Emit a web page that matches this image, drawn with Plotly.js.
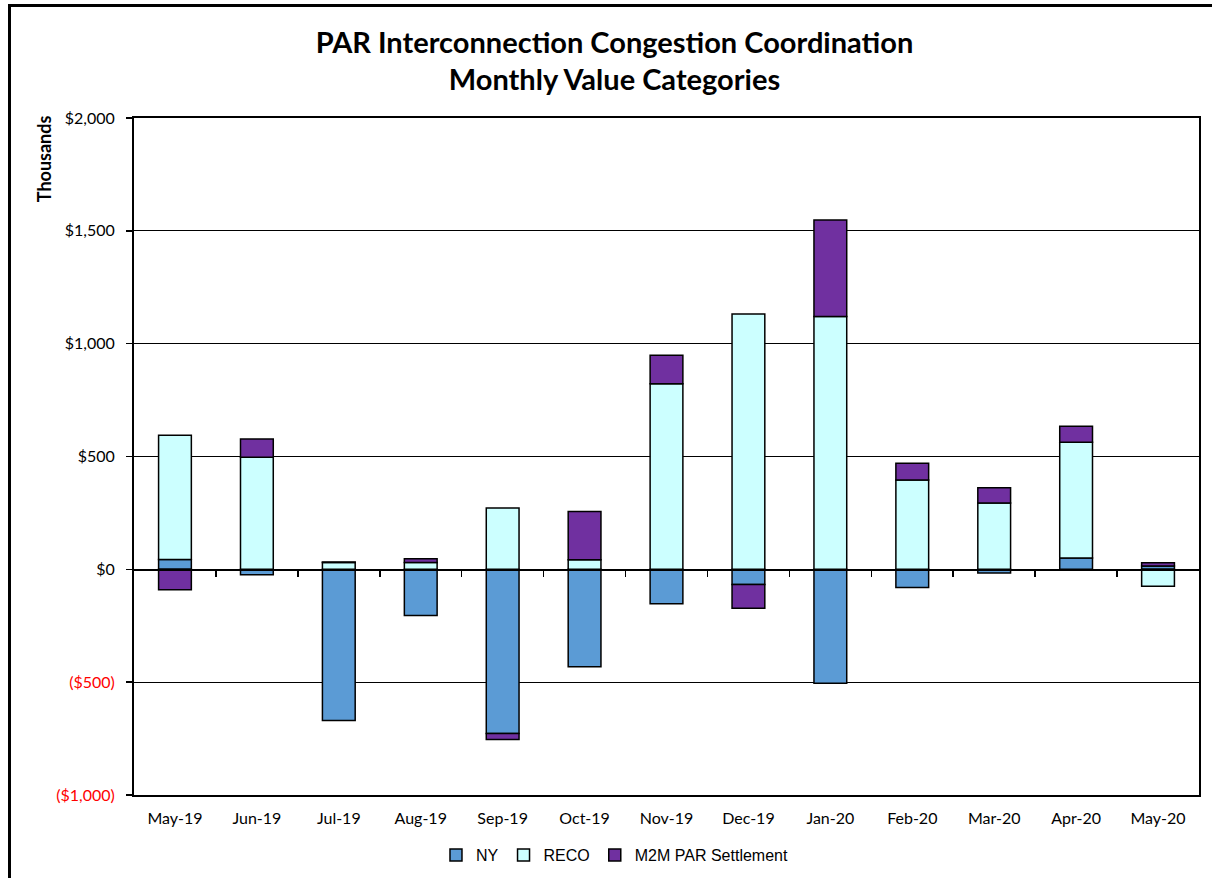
<!DOCTYPE html>
<html>
<head>
<meta charset="utf-8">
<script src="https://cdn.plot.ly/plotly-3.0.1.min.js"></script>
<style>
html,body{margin:0;padding:0;overflow:hidden;background:#fff;}
#chart{width:1212px;height:878px;}
#frame{position:absolute;left:8px;top:4px;width:1400px;height:1000px;border:3px solid #000;pointer-events:none;}
</style>
</head>
<body>
<div id="chart"></div>
<div id="frame"></div>
<script>
const months = ["May-19","Jun-19","Jul-19","Aug-19","Sep-19","Oct-19","Nov-19","Dec-19","Jan-20","Feb-20","Mar-20","Apr-20","May-20"];
const nyValues   = [44, -24, -670, -205, -727, -432, -153, -67, -505, -80, -16, 50, 15];
const recoValues = [550, 497, 30, 30, 272, 43, 822, 1132, 1120, 396, 294, 513, -75];
const m2mValues  = [-91, 81, 2, 17, -27, 213, 127, -106, 428, 74, 67, 71, 14];
const yTickVals  = [-1000, -500, 0, 500, 1000, 1500, 2000];
const yTickText  = ['<span style="color:#FF0000">($1,000)</span>','<span style="color:#FF0000">($500)</span>','$0','$500','$1,000','$1,500','$2,000'];
const boundaryTicks = months.slice(1).map((m, i) => i + 0.5);

const lineStyle = {color:'#000000', width:1.5};
const traces = [
  {type:'bar', name:'NY', x:months, y:nyValues, marker:{color:'#5B9BD5', line:lineStyle}},
  {type:'bar', name:'RECO', x:months, y:recoValues, marker:{color:'#CCFFFF', line:lineStyle}},
  {type:'bar', name:'M2M PAR Settlement', x:months, y:m2mValues, marker:{color:'#7030A0', line:lineStyle}},
  {type:'scatter', x:[0.5], y:[0], xaxis:'x2', mode:'markers', marker:{opacity:0}, showlegend:false, hoverinfo:'skip'}
];

const layout = {
  width:1212, height:878,
  paper_bgcolor:'#ffffff', plot_bgcolor:'#ffffff',
  margin:{l:134, r:13, t:118, b:83},
  barmode:'relative', bargap:0.6,
  title:{text:'<b>PAR Interconnection Congestion Coordination<br>Monthly Value Categories</b>',
         font:{family:'Lato, Calibri, sans-serif', size:29, color:'#000'},
         x:0.507, xref:'container', xanchor:'center', y:0.940, yref:'container', yanchor:'top'},
  xaxis:{type:'category', showgrid:false, ticks:'', showline:true, linecolor:'#000', linewidth:2, mirror:true,
         tickfont:{family:'Lato, Calibri, sans-serif', size:16, color:'#000'}, ticklabelstandoff:8, zeroline:false},
  xaxis2:{overlaying:'x', anchor:'free', position:1/3, range:[-0.5, months.length-0.5], showgrid:false,
          showline:true, linecolor:'#000', linewidth:1.5, ticks:'outside', ticklen:6, tickwidth:1.5, tickcolor:'#000',
          tickvals:boundaryTicks, showticklabels:false, zeroline:false, fixedrange:true},
  yaxis:{range:[-1000, 2000], tickvals:yTickVals, ticktext:yTickText, showgrid:true, gridcolor:'#000', gridwidth:1.2,
         showline:true, linecolor:'#000', linewidth:2, mirror:true, ticks:'outside', ticklen:6, tickcolor:'#000', tickwidth:1.5,
         tickfont:{family:'Lato, Calibri, sans-serif', size:16, color:'#000'}, ticklabelstandoff:8,
         zeroline:true, zerolinecolor:'#000', zerolinewidth:1.5},
  showlegend:true,
  legend:{orientation:'h', x:0.507, xref:'container', xanchor:'center', y:0.026, yref:'container', yanchor:'middle',
          font:{family:'Liberation Sans, Arial, sans-serif', size:16, color:'#000'}, itemwidth:30, tracegroupgap:0,
          traceorder:'normal'},
  annotations:[{text:'<b>Thousands</b>', textangle:-90, xref:'paper', yref:'paper', x:-0.085, y:1.007, xanchor:'center', yanchor:'top',
                showarrow:false, font:{family:'Lato, Calibri, sans-serif', size:18, color:'#000'}}]
};
Plotly.newPlot('chart', traces, layout, {displayModeBar:false, staticPlot:true});
</script>
</body>
</html>
